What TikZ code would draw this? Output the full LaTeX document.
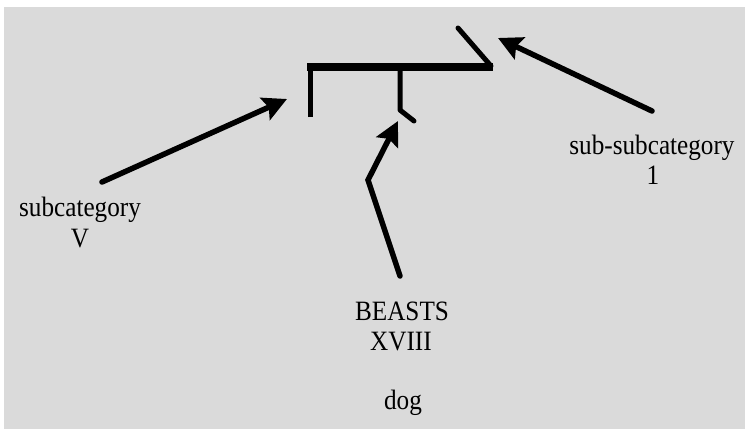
\documentclass[tikz,border=0pt]{standalone}
\usepackage{fontspec}
\setmainfont{Liberation Serif}[FakeStretch=0.9]
\usetikzlibrary{arrows.meta}
\definecolor{bggray}{RGB}{218,218,218}
\begin{document}
\begin{tikzpicture}[x=1pt,y=-1pt,
  lbl/.style={font=\fontsize{28}{30}\selectfont, inner sep=0pt, anchor=base},
  glyphthick/.style={line width=8pt},
  glyphthin/.style={line width=5pt, line cap=round, line join=round},
  pointer/.style={line width=5.5pt, line cap=round, line join=miter,
    -{Stealth[length=24pt,width=24pt,inset=4pt]}}]
\useasboundingbox (0,0) rectangle (745,429);
\fill[white] (0,0) rectangle (745,429);
\fill[bggray] (4,7) rectangle (745,429);
% the glyph
\draw[glyphthin, line cap=butt] (310,117) -- (310,64);
\draw[glyphthick] (307,66.5) -- (493,66.5);
\draw[glyphthin] (491,66) -- (458,28);
\draw[glyphthin] (400,68) -- (400,110) -- (414,121);
% labels
\node[lbl] (subcat) at (80,216) {subcategory};
\node[lbl] (subcatV) at (80,247) {V};
\node[lbl] (subsub) at (652,154) {sub-subcategory};
\node[lbl] (subsubI) at (653,184) {1};
\node[lbl] (beasts) at (402,320) {BEASTS};
\node[lbl] (beastsX) at (401,350) {XVIII};
\node[lbl] (dog) at (403,409) {dog};
% arrow ends
\coordinate (lt) at (102,182);
\coordinate (lh) at (287,99);
\coordinate (mt) at (400,276);
\coordinate (mb) at (368,180);
\coordinate (mh) at (398,121);
\coordinate (rt) at (652,111);
\coordinate (rh) at (498,38);
\draw[pointer] (lt) -- (lh);
\draw[pointer] (mt) -- (mb) -- (mh);
\draw[pointer] (rt) -- (rh);
\end{tikzpicture}
\end{document}
